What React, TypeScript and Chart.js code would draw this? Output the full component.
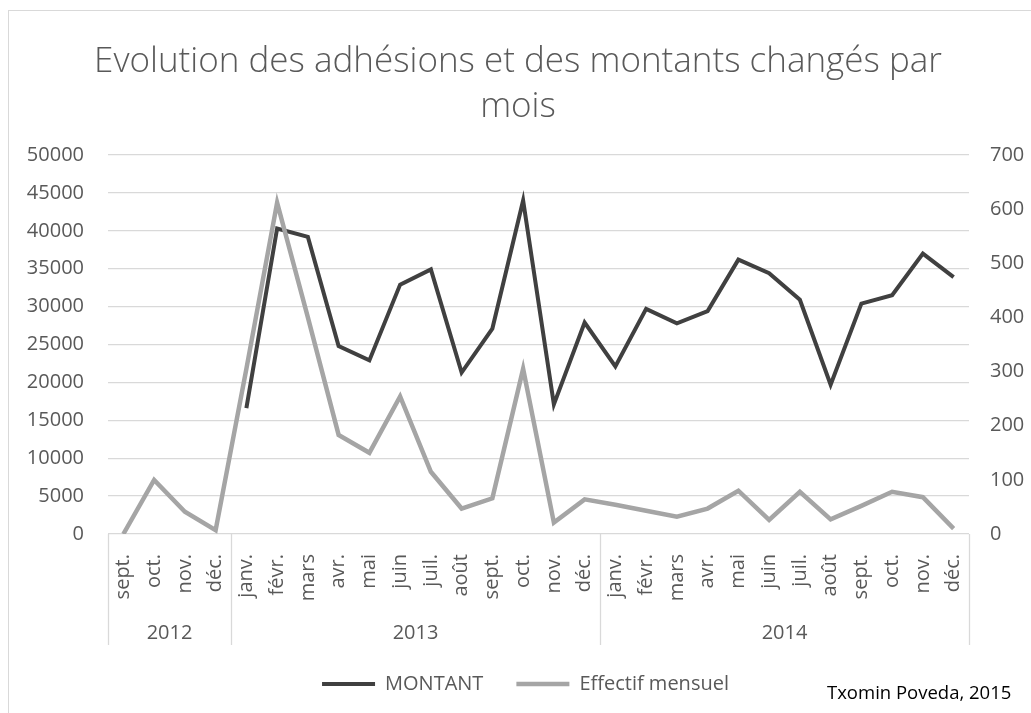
import React, { useEffect, useRef } from 'react';
import { Chart, registerables } from 'chart.js';

Chart.register(...registerables);

const months = ['sept.', 'oct.', 'nov.', 'déc.', 'janv.', 'févr.', 'mars', 'avr.', 'mai', 'juin', 'juil.', 'août', 'sept.', 'oct.', 'nov.', 'déc.', 'janv.', 'févr.', 'mars', 'avr.', 'mai', 'juin', 'juil.', 'août', 'sept.', 'oct.', 'nov.', 'déc.'];
const years = ['2012', '2013', '2014'];
const monthsPerYear = [4, 12, 12];
const montant = [null, null, null, null, 16600, 40300, 39200, 24800, 22900, 32900, 34900, 21300, 27100, 44000, 17100, 27900, 22100, 29700, 27800, 29400, 36200, 34400, 30900, 19700, 30400, 31500, 37000, 33900];
const effectif = [0, 100, 41, 7, 305, 612, 400, 183, 150, 254, 115, 47, 66, 305, 21, 64, 54, 43, 32, 47, 80, 26, 78, 27, 52, 78, 68, 10];
const seriesNames = ['MONTANT', 'Effectif mensuel'];
const titleLines = ['Evolution des adhésions et des montants changés par', 'mois'];
const footerText = 'Txomin Poveda, 2015';

const TEXT = '#595959';
const GRID = '#D9D9D9';
const FONT = "'Open Sans', sans-serif";

// year group boundaries and centres (in category index units)
const yearBounds: number[] = [-0.5];
const yearCenters: number[] = [];
{
  let start = 0;
  monthsPerYear.forEach((n) => {
    yearCenters.push(start + (n - 1) / 2);
    start += n;
    yearBounds.push(start - 0.5);
  });
}

const separatorPlugin = {
  id: 'yearSeparators',
  afterDraw(chart: any) {
    const x2 = chart.scales.x2;
    const ctx = chart.ctx;
    ctx.save();
    ctx.strokeStyle = GRID;
    ctx.lineWidth = 1.3;
    yearBounds.forEach((b) => {
      const px = Math.round(x2.getPixelForValue(b)) + 0.5;
      ctx.beginPath();
      ctx.moveTo(px, chart.chartArea.bottom);
      ctx.lineTo(px, x2.bottom + 4);
      ctx.stroke();
    });
    ctx.restore();
  },
};

export default function App() {
  const ref = useRef<HTMLCanvasElement | null>(null);

  useEffect(() => {
    if (!ref.current) return;
    const chart = new Chart(ref.current, {
      type: 'line',
      data: {
        labels: months,
        datasets: [
          {
            label: seriesNames[0],
            data: montant,
            yAxisID: 'y',
            xAxisID: 'x',
            borderColor: '#404040',
            backgroundColor: '#404040',
            borderWidth: 4,
            pointRadius: 0,
            tension: 0,
            order: 1,
          },
          {
            label: seriesNames[1],
            data: effectif,
            yAxisID: 'y1',
            xAxisID: 'x',
            borderColor: '#A5A5A5',
            backgroundColor: '#A5A5A5',
            borderWidth: 4.5,
            pointRadius: 0,
            tension: 0,
            order: 0,
          },
        ],
      },
      options: {
        responsive: false,
        animation: false,
        layout: { padding: { left: 20, right: 0, top: 155, bottom: 9 } },
        plugins: {
          title: { display: false },
          tooltip: { enabled: false },
          legend: {
            display: true,
            position: 'bottom',
            labels: {
              usePointStyle: true,
              pointStyle: 'line',
              pointStyleWidth: 53,
              boxHeight: 20,
              padding: 33,
              color: TEXT,
              font: { family: FONT, size: 20 },
              sort: (a: any, b: any) => a.datasetIndex - b.datasetIndex,
            },
          },
        },
        scales: {
          x: {
            type: 'category',
            position: 'bottom',
            weight: 1,
            offset: true,
            grid: { display: false },
            border: { display: false },
            ticks: {
              autoSkip: false,
              minRotation: 90,
              maxRotation: 90,
              padding: 12,
              color: TEXT,
              font: { family: FONT, size: 20 },
            },
            afterFit: (s: any) => { s.height = 70; },
          },
          x2: {
            type: 'linear',
            position: 'bottom',
            weight: 2,
            min: -0.5,
            max: months.length - 0.5,
            grid: { display: false },
            border: { display: false },
            afterBuildTicks: (s: any) => { s.ticks = yearCenters.map((v) => ({ value: v })); },
            ticks: {
              autoSkip: false,
              maxRotation: 0,
              padding: 9,
              color: TEXT,
              font: { family: FONT, size: 20 },
              callback: (v: any) => {
                const i = yearCenters.indexOf(Number(v));
                return i >= 0 ? years[i] : '';
              },
            },
            afterFit: (s: any) => { s.height = 37; },
          },
          y: {
            type: 'linear',
            position: 'left',
            min: 0,
            max: 50000,
            grid: { color: GRID, lineWidth: 1.3, drawTicks: false },
            border: { display: false },
            ticks: {
              stepSize: 5000,
              padding: 24,
              color: TEXT,
              font: { family: FONT, size: 20 },
              callback: (v: any) => String(v),
            },
            afterFit: (s: any) => { s.width = 88; },
          },
          y1: {
            type: 'linear',
            position: 'right',
            min: 0,
            max: 700,
            grid: { drawOnChartArea: false, drawTicks: false },
            border: { display: false },
            ticks: {
              stepSize: 100,
              padding: 21,
              color: TEXT,
              font: { family: FONT, size: 20 },
              callback: (v: any) => String(v),
            },
            afterFit: (s: any) => { s.width = 62; },
          },
        },
      },
      plugins: [separatorPlugin],
    } as any);
    return () => chart.destroy();
  }, []);

  return (
    <div style={{ position: 'fixed', left: 0, top: 0, width: 1031, height: 713, background: '#fff', overflow: 'hidden' }}>
      <div style={{ position: 'absolute', left: 8, top: 10, width: 1100, height: 800, borderLeft: `1.3px solid ${GRID}`, borderTop: `1.3px solid ${GRID}` }} />
      <canvas ref={ref} width={1031} height={713} style={{ position: 'absolute', left: 0, top: 0 }} />
      <div style={{ position: 'absolute', left: 0, top: 36, width: 1036, textAlign: 'center', fontFamily: FONT, fontWeight: 300, fontSize: 35, lineHeight: '45px', color: TEXT, whiteSpace: 'nowrap' }}>
        {titleLines.map((t, i) => (<div key={i}>{t}</div>))}
      </div>
      <div style={{ position: 'absolute', left: 827, top: 678, fontFamily: FONT, fontSize: 18.5, lineHeight: '28px', color: '#000', whiteSpace: 'nowrap' }}>
        {footerText}
      </div>
    </div>
  );
}
